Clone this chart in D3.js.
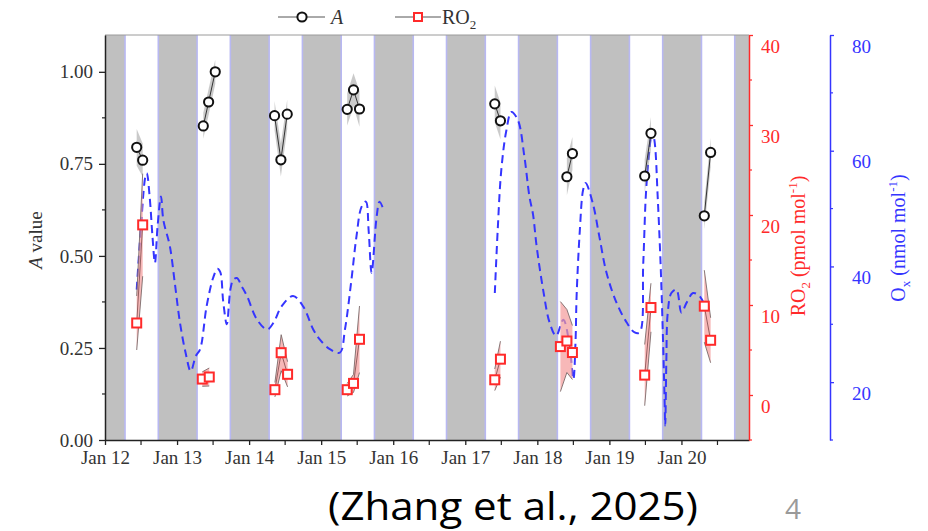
<!DOCTYPE html>
<html><head><meta charset="utf-8">
<script src="https://cdn.jsdelivr.net/npm/d3@7"></script>
<style>body{margin:0;background:#fff} svg{display:block}</style>
</head><body><svg id="c" width="928" height="531"></svg>
<script>
// ---- data (times are day-of-January with fractional day) ----
const bandDays = [12, 13, 14, 15, 16, 17, 18, 19, 20];
const daylightHours = [6.67, 17.75];

const aDay = [12.44, 12.523, 13.364, 13.438, 13.53, 14.353, 14.441, 14.529, 15.361, 15.449, 15.532, 17.409, 17.488, 18.41, 18.487, 19.49, 19.577, 20.317, 20.405];
const aVal = [0.795, 0.76, 0.853, 0.918, 1.0, 0.881, 0.761, 0.885, 0.898, 0.951, 0.899, 0.913, 0.867, 0.715, 0.778, 0.717, 0.833, 0.609, 0.781];
const aErr = [0.05, 0.045, 0.035, 0.035, 0.033, 0.04, 0.045, 0.04, 0.044, 0.045, 0.048, 0.05, 0.05, 0.05, 0.045, 0.045, 0.044, 0.037, 0.04];

const rDay = [12.44, 12.523, 13.35, 13.447, 14.358, 14.445, 14.534, 15.361, 15.449, 15.532, 17.409, 17.488, 18.32, 18.41, 18.487, 19.49, 19.577, 20.317, 20.405];
const rVal = [8.0, 18.9, 1.77, 2.0, 0.59, 4.7, 2.3, 0.59, 1.29, 6.19, 1.69, 3.98, 5.38, 6.0, 4.72, 2.21, 9.72, 9.87, 6.08];
const rErr = [3.0, 5.7, 0.8, 1.0, 0.8, 2.0, 1.4, 0.7, 1.0, 3.7, 1.2, 2.0, 5.0, 3.5, 3.0, 3.4, 2.7, 4.0, 2.5];

const oxDay = [12.44, 12.50, 12.56, 12.58, 12.62, 12.66, 12.693, 12.73, 12.777, 12.81, 12.90, 12.97, 13.04, 13.12, 13.19, 13.26, 13.32, 13.41, 13.50, 13.56, 13.60, 13.64, 13.69, 13.74, 13.78, 13.83, 13.90, 13.97, 14.11, 14.25, 14.34, 14.45, 14.61, 14.75, 14.89, 14.98, 15.12, 15.26, 15.33, 15.42, 15.49, 15.56, 15.62, 15.66, 15.70, 15.77, 15.81, 15.86,
  17.41, 17.45, 17.50, 17.57, 17.64, 17.73, 17.82, 17.89, 17.94, 17.99, 18.08, 18.17, 18.26, 18.36, 18.44, 18.50, 18.53, 18.545, 18.59, 18.635, 18.67, 18.77, 18.86, 18.96, 19.10, 19.24, 19.35, 19.42, 19.47, 19.51, 19.57, 19.596, 19.63, 19.67, 19.71, 19.74, 19.765, 19.775, 19.79, 19.81, 19.86, 19.93, 20.00, 20.07, 20.16, 20.25, 20.345];
const oxVal = [36, 47, 55.5, 56.1, 52, 45, 40.6, 47, 52.1, 48, 43.5, 37, 30.3, 25, 21.9, 24.5, 25.7, 33.1, 38, 39.6, 39, 34, 30, 36, 37.7, 38, 36.5, 34.9, 30.8, 29.1, 30.3, 33.1, 34.9, 33.1, 29.1, 27.4, 25.7, 25.1, 29.1, 37.7, 45.2, 50.3, 51.2, 46, 38.9, 48.6, 51.2, 50.0,
  35.4, 46.3, 56.7, 63.5, 66.7, 65.3, 59.0, 52.1, 49, 43.5, 36.0, 30.3, 28.0, 30.8, 27, 20.5, 27, 34.9, 46.3, 53.2, 54.4, 50.9, 45.2, 38.9, 33.7, 30.3, 28.6, 28.6, 40.6, 53.2, 61.8, 63.5, 61.3, 52.1, 40.6, 29.1, 17.6, 12.5, 23.4, 32.0, 35.4, 36.0, 32.0, 33.7, 35.4, 34.9, 32.6];

const leftTicks = [0, 0.25, 0.5, 0.75, 1.0];
const leftMinor = [0.125, 0.375, 0.625, 0.875];
const ro2Ticks = [0, 10, 20, 30, 40];
const ro2Minor = [-5, 5, 15, 25, 35];
const oxTicks = [20, 40, 60, 80];
const oxMinor = [10, 30, 50, 70];

// ---- helpers ----
const base = new Date(2024, 0, 1).getTime();
const toDate = d => new Date(base + (d - 1) * 864e5);
const svg = d3.select("#c");
const L = 105, R = 749, T = 35, B = 440;
const serif = "'Liberation Serif', 'Times New Roman', serif";
const RED = "#ff2a2a", BLUE = "#3535ff";
const FS = 19;

const x = d3.scaleTime().domain([toDate(12), toDate(20.9375)]).range([L, R]);
const yA = d3.scaleLinear().domain([0, 1.1]).range([B, T]);
const yR = d3.scaleLinear().domain([-5, 40]).range([B, T]);
const yO = d3.scaleLinear().domain([10, 80]).range([B, T]);

// background (night) and daylight bands
svg.append("rect").attr("x", L).attr("y", T).attr("width", R - L).attr("height", B - T).attr("fill", "#c0c0c0");
bandDays.forEach(d => {
  const x0 = x(toDate(d + daylightHours[0] / 24)), x1 = x(toDate(d + daylightHours[1] / 24));
  svg.append("rect").attr("x", x0).attr("y", T).attr("width", x1 - x0).attr("height", B - T).attr("fill", "#fff");
  [x0, x1].forEach(xx => svg.append("line").attr("x1", xx).attr("x2", xx).attr("y1", T).attr("y2", B)
    .attr("stroke", "#b8b8f2").attr("stroke-width", 1.6));
});
svg.append("line").attr("x1", L).attr("x2", R).attr("y1", T).attr("y2", T).attr("stroke", "#9a9a9a").attr("stroke-width", 1);

// Ox dashed line (split at data gaps)
const ox = oxDay.map((d, i) => ({ t: toDate(d), d, v: oxVal[i] }));
const oxSegs = [];
ox.forEach((p, i) => {
  if (i === 0 || p.d - ox[i - 1].d > 0.5) oxSegs.push([]);
  oxSegs[oxSegs.length - 1].push(p);
});
const oxLine = d3.line().x(p => x(p.t)).y(p => yO(p.v)).curve(d3.curveCatmullRom.alpha(0.5));
svg.append("g").selectAll("path").data(oxSegs).join("path")
  .attr("d", oxLine).attr("fill", "none").attr("stroke", BLUE).attr("stroke-width", 2)
  .attr("stroke-dasharray", "8,5");

// grouping by day
function groups(days, vals, errs) {
  const g = d3.groups(days.map((d, i) => ({ t: toDate(d), v: vals[i], e: errs[i], k: Math.floor(d) })), p => p.k);
  return g.map(e => e[1]);
}
const aG = groups(aDay, aVal, aErr);
const rG = groups(rDay, rVal, rErr);

// RO2 bands
const rArea = d3.area().x(p => x(p.t)).y0(p => yR(p.v - p.e)).y1(p => yR(p.v + p.e));
const gR = svg.append("g");
gR.selectAll("path.band").data(rG).join("path").attr("class", "band").attr("d", rArea)
  .attr("fill", "#f49a9a").attr("fill-opacity", 0.7);
["lo", "hi"].forEach(k => {
  const ln = d3.line().x(p => x(p.t)).y(p => yR(k === "lo" ? p.v - p.e : p.v + p.e));
  gR.selectAll("path." + k).data(rG).join("path").attr("class", k).attr("d", ln)
    .attr("fill", "none").attr("stroke", "#7a6a6a").attr("stroke-width", 0.9);
});
gR.selectAll("path.ln").data(rG).join("path").attr("class", "ln")
  .attr("d", d3.line().x(p => x(p.t)).y(p => yR(p.v))).attr("fill", "none").attr("stroke", "#8a5555").attr("stroke-width", 0.9);

// A bands
const aArea = d3.area().x(p => x(p.t)).y0(p => yA(p.v - p.e)).y1(p => yA(p.v + p.e));
const gA = svg.append("g");
gA.selectAll("path.band").data(aG).join("path").attr("class", "band").attr("d", aArea)
  .attr("fill", "#8a8a8a").attr("fill-opacity", 0.45);
gA.selectAll("path.ln").data(aG).join("path").attr("class", "ln")
  .attr("d", d3.line().x(p => x(p.t)).y(p => yA(p.v))).attr("fill", "none").attr("stroke", "#333").attr("stroke-width", 1);

// markers
gR.selectAll("rect.m").data(rG.flat()).join("rect").attr("class", "m")
  .attr("x", p => x(p.t) - 4.5).attr("y", p => yR(p.v) - 4.5).attr("width", 9).attr("height", 9)
  .attr("fill", "#fff").attr("stroke", RED).attr("stroke-width", 2);
gA.selectAll("circle").data(aG.flat()).join("circle")
  .attr("cx", p => x(p.t)).attr("cy", p => yA(p.v)).attr("r", 4.6)
  .attr("fill", "#fff").attr("stroke", "#111").attr("stroke-width", 2);

// ---- axes ----
function styleText(g, color) {
  g.selectAll("text").attr("font-family", serif).attr("font-size", FS).attr("fill", color);
}
// left
const gl = svg.append("g").attr("transform", `translate(${L},0)`)
  .call(d3.axisLeft(yA).tickValues(leftTicks).tickFormat(d3.format(".2f")).tickSize(6).tickSizeOuter(0).tickPadding(6));
gl.select(".domain").attr("stroke", "#222").attr("stroke-width", 1.5);
gl.selectAll(".tick line").attr("stroke", "#222").attr("stroke-width", 1.3);
styleText(gl, "#333");
svg.append("g").selectAll("line").data(leftMinor).join("line")
  .attr("x1", L - 3).attr("x2", L).attr("y1", d => yA(d)).attr("y2", d => yA(d)).attr("stroke", "#222").attr("stroke-width", 1.2);

// bottom
const gb = svg.append("g").attr("transform", `translate(0,${B})`)
  .call(d3.axisBottom(x).ticks(d3.timeDay.every(1)).tickFormat(d3.timeFormat("%b %d")).tickSize(5).tickSizeOuter(0).tickPadding(6));
gb.select(".domain").attr("stroke", "#222").attr("stroke-width", 1.5);
gb.selectAll(".tick line").attr("stroke", "#222").attr("stroke-width", 1.3);
styleText(gb, "#333");
svg.append("g").selectAll("line").data(bandDays.map(d => toDate(d + 0.5))).join("line")
  .attr("x1", d => x(d)).attr("x2", d => x(d)).attr("y1", B).attr("y2", B + 5).attr("stroke", "#222").attr("stroke-width", 1.2);

// right RO2
const gr = svg.append("g").attr("transform", `translate(${R},0)`)
  .call(d3.axisRight(yR).tickValues(ro2Ticks).tickSize(4).tickSizeOuter(0).tickPadding(8));
gr.select(".domain").attr("stroke", RED).attr("stroke-width", 1.5);
gr.selectAll(".tick line").attr("stroke", RED).attr("stroke-width", 1.3);
styleText(gr, RED);
gr.selectAll(".tick text").attr("dy", "0.32em").attr("y", 11);
svg.append("g").selectAll("line").data(ro2Minor).join("line")
  .attr("x1", R).attr("x2", R + 3).attr("y1", d => yR(d)).attr("y2", d => yR(d)).attr("stroke", RED).attr("stroke-width", 1.2);

// right Ox
const OX = 830;
const go = svg.append("g").attr("transform", `translate(${OX},0)`)
  .call(d3.axisRight(yO).tickValues(oxTicks).tickSize(4).tickSizeOuter(0).tickPadding(18));
go.select(".domain").attr("stroke", BLUE).attr("stroke-width", 1.5);
go.selectAll(".tick line").attr("stroke", BLUE).attr("stroke-width", 1.3);
styleText(go, BLUE);
go.selectAll(".tick text").attr("dy", "0.32em").attr("y", 11);
svg.append("g").selectAll("line").data(oxMinor).join("line")
  .attr("x1", OX).attr("x2", OX + 3).attr("y1", d => yO(d)).attr("y2", d => yO(d)).attr("stroke", BLUE).attr("stroke-width", 1.2);

// ---- axis titles ----
const tA = svg.append("text").attr("transform", "translate(42,240) rotate(-90)").attr("text-anchor", "middle")
  .attr("font-family", serif).attr("font-size", FS).attr("fill", "#333");
tA.append("tspan").attr("font-style", "italic").text("A");
tA.append("tspan").text(" value");

function unitTitle(tx, ty, main, sub, unit, color) {
  const t = svg.append("text").attr("transform", `translate(${tx},${ty}) rotate(-90)`).attr("text-anchor", "middle")
    .attr("font-family", serif).attr("font-size", 20).attr("fill", color);
  t.append("tspan").text(main);
  t.append("tspan").attr("font-size", 13).attr("dy", 5).text(sub);
  t.append("tspan").attr("dy", -5).text(" (" + unit + " mol");
  t.append("tspan").attr("font-size", 13).attr("dy", -8).text("-1");
  t.append("tspan").attr("dy", 8).text(")");
}
unitTitle(805, 246, "RO", "2", "pmol", RED);
unitTitle(905, 238, "O", "x", "nmol", BLUE);

// ---- legend ----
const lg = svg.append("g");
lg.append("line").attr("x1", 278).attr("x2", 325).attr("y1", 17).attr("y2", 17).attr("stroke", "#555").attr("stroke-width", 1);
lg.append("circle").attr("cx", 302).attr("cy", 17).attr("r", 4.6).attr("fill", "#fff").attr("stroke", "#111").attr("stroke-width", 2);
lg.append("text").attr("x", 331).attr("y", 24).attr("font-family", serif).attr("font-size", 20).attr("font-style", "italic").attr("fill", "#333").text("A");
lg.append("line").attr("x1", 395).attr("x2", 441).attr("y1", 17).attr("y2", 17).attr("stroke", "#555").attr("stroke-width", 1);
lg.append("rect").attr("x", 414).attr("y", 13).attr("width", 8).attr("height", 8).attr("fill", "#fff").attr("stroke", RED).attr("stroke-width", 2);
const lt = lg.append("text").attr("x", 442).attr("y", 24).attr("font-family", serif).attr("font-size", 20).attr("fill", "#333");
lt.append("tspan").text("RO");
lt.append("tspan").attr("font-size", 13).attr("dy", 5).text("2");

// ---- footer ----
svg.append("text").attr("x", 328).attr("y", 520).attr("font-family", "'Open Sans', 'Noto Sans', sans-serif")
  .attr("font-size", 38).attr("fill", "#000").attr("textLength", 370).attr("lengthAdjust", "spacingAndGlyphs")
  .text("(Zhang et al., 2025)");
svg.append("text").attr("x", 785).attr("y", 519).attr("font-family", "'Open Sans', 'Noto Sans', sans-serif")
  .attr("font-size", 28).attr("fill", "#9a9a9a").text("4");
</script></body></html>
